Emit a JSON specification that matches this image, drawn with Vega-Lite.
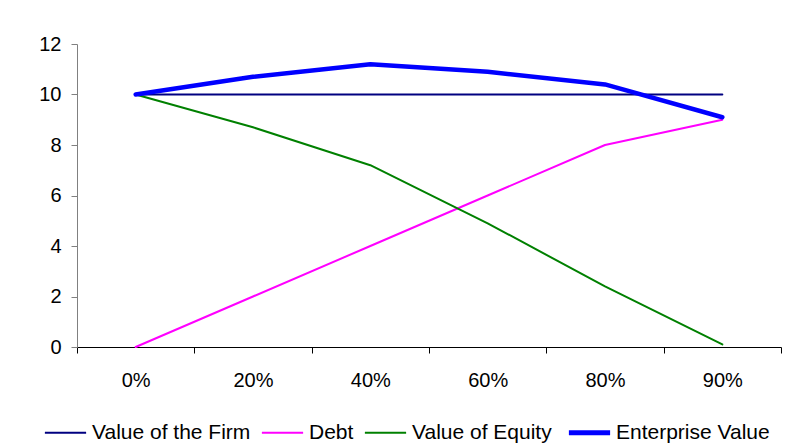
{
  "$schema": "https://vega.github.io/schema/vega-lite/v6.json",
  "width": 704,
  "height": 303,
  "autosize": "none",
  "padding": {"left": 77, "top": 44, "right": 20, "bottom": 101},
  "background": "white",
  "config": {
    "font": "Liberation Sans",
    "view": {"stroke": null},
    "axis": {"labelFont": "Liberation Sans", "labelColor": "black", "grid": false, "labelFontSize": 20}
  },
  "data": {
    "values": [
      {"debt": "0%", "series": "Value of the Firm", "value": 10},
      {"debt": "20%", "series": "Value of the Firm", "value": 10},
      {"debt": "40%", "series": "Value of the Firm", "value": 10},
      {"debt": "60%", "series": "Value of the Firm", "value": 10},
      {"debt": "80%", "series": "Value of the Firm", "value": 10},
      {"debt": "90%", "series": "Value of the Firm", "value": 10},
      {"debt": "0%", "series": "Debt", "value": 0},
      {"debt": "20%", "series": "Debt", "value": 2},
      {"debt": "40%", "series": "Debt", "value": 4},
      {"debt": "60%", "series": "Debt", "value": 6},
      {"debt": "80%", "series": "Debt", "value": 8},
      {"debt": "90%", "series": "Debt", "value": 9},
      {"debt": "0%", "series": "Value of Equity", "value": 10},
      {"debt": "20%", "series": "Value of Equity", "value": 8.7},
      {"debt": "40%", "series": "Value of Equity", "value": 7.2},
      {"debt": "60%", "series": "Value of Equity", "value": 4.9},
      {"debt": "80%", "series": "Value of Equity", "value": 2.4},
      {"debt": "90%", "series": "Value of Equity", "value": 0.1},
      {"debt": "0%", "series": "Enterprise Value", "value": 10},
      {"debt": "20%", "series": "Enterprise Value", "value": 10.7},
      {"debt": "40%", "series": "Enterprise Value", "value": 11.2},
      {"debt": "60%", "series": "Enterprise Value", "value": 10.9},
      {"debt": "80%", "series": "Enterprise Value", "value": 10.4},
      {"debt": "90%", "series": "Enterprise Value", "value": 9.1}
    ]
  },
  "mark": {"type": "line", "strokeCap": "round", "strokeJoin": "round"},
  "encoding": {
    "x": {
      "field": "debt", "type": "ordinal", "title": null,
      "bandPosition": 0.5,
      "scale": {"type": "band", "paddingInner": 0, "paddingOuter": 0},
      "axis": {"labelAngle": 0, "tickBand": "extent", "domainColor": "black", "tickColor": "black", "tickSize": 6, "labelPadding": 17, "labelFontSize": 20}
    },
    "y": {
      "field": "value", "type": "quantitative", "title": null,
      "scale": {"domain": [0, 12], "nice": false, "zero": true},
      "axis": {"values": [0, 2, 4, 6, 8, 10, 12], "domainColor": "#808080", "tickColor": "#808080", "tickSize": 6, "labelPadding": 10, "labelFontSize": 20}
    },
    "color": {
      "field": "series", "type": "nominal", "title": null,
      "scale": {"domain": ["Value of the Firm", "Debt", "Value of Equity", "Enterprise Value"], "range": ["#000080", "#FF00FF", "#008000", "#0000FF"]},
      "legend": {
        "orient": "none", "legendX": -22, "legendY": 378, "direction": "horizontal",
        "symbolType": "stroke", "symbolSize": 1700, "labelFontSize": 21, "labelColor": "black",
        "labelFont": "Liberation Sans", "columnPadding": 6, "labelOffset": 16, "title": null,
        "encode": {"symbols": {"update": {"size": {"value": 1700}, "strokeWidth": {"signal": "datum.value === 'Enterprise Value' ? 5 : 2"}}}}
      }
    },
    "strokeWidth": {
      "condition": {"test": "datum.series === 'Enterprise Value'", "value": 4.5},
      "value": 2
    },
    "order": {"field": "debt"}
  }
}
